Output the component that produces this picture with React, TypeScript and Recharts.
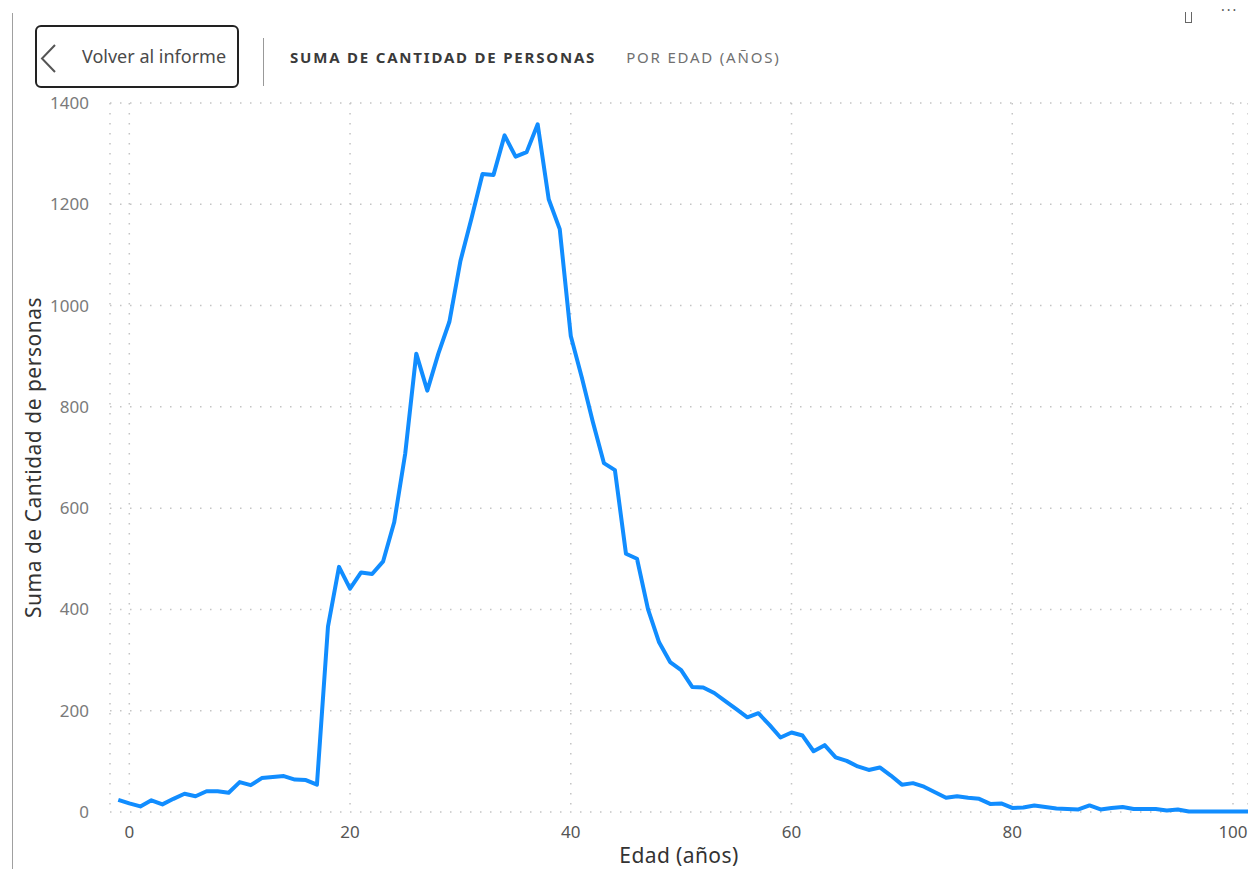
import { LineChart, Line, XAxis, YAxis, CartesianGrid } from 'recharts';

// edad (años)
const ages = [
  -1, 0, 1, 2, 3, 4, 5, 6, 7, 8, 9, 10, 11, 12, 13, 14, 15, 16, 17, 18, 19, 20,
  21, 22, 23, 24, 25, 26, 27, 28, 29, 30, 31, 32, 33, 34, 35, 36, 37, 38, 39, 40,
  41, 42, 43, 44, 45, 46, 47, 48, 49, 50, 51, 52, 53, 54, 55, 56, 57, 58, 59, 60,
  61, 62, 63, 64, 65, 66, 67, 68, 69, 70, 71, 72, 73, 74, 75, 76, 77, 78, 79, 80,
  81, 82, 83, 84, 85, 86, 87, 88, 89, 90, 91, 92, 93, 94, 95, 96, 97, 98, 99, 100,
  101, 102,
];

// suma de cantidad de personas
const personas = [
  24, 17, 11, 23, 15, 26, 36, 31, 41, 41, 38, 59, 53, 67, 69, 71, 64, 63, 54, 366, 484, 441,
  473, 470, 495, 572, 708, 905, 832, 905, 968, 1088, 1172, 1260, 1258, 1336, 1294, 1303, 1358, 1210, 1151, 940,
  858, 770, 689, 675, 510, 500, 400, 335, 296, 280, 247, 246, 235, 219, 203, 187, 195, 172, 147, 157,
  151, 120, 132, 108, 101, 90, 83, 88, 72, 54, 57, 50, 39, 28, 31, 28, 26, 16, 17, 8,
  9, 13, 10, 7, 6, 5, 13, 5, 8, 10, 6, 6, 6, 3, 5, 1, 1, 1, 1, 1,
  1, 1,
];

const xTicks = [0, 20, 40, 60, 80, 100];
const yTicks = [0, 200, 400, 600, 800, 1000, 1200, 1400];

const data = ages.map((edad, i) => ({ edad, personas: personas[i] }));

const font = '"Noto Sans", "Open Sans", sans-serif';

export default function App() {
  return (
    <div
      style={{
        position: 'fixed',
        left: 0,
        top: 0,
        width: 1248,
        height: 869,
        overflow: 'hidden',
        background: '#fff',
        fontFamily: font,
      }}
    >
      <div style={{ position: 'absolute', left: 12, top: 13, width: 1, bottom: 0, background: '#a0a0a0' }} />

      {/* back button */}
      <div
        style={{
          position: 'absolute',
          left: 35,
          top: 25,
          width: 200,
          height: 59,
          border: '2px solid #222',
          borderRadius: 6,
          boxSizing: 'content-box',
        }}
      >
        <svg width={30} height={59} style={{ position: 'absolute', left: 0, top: 0 }}>
          <polyline points="18,18 5,31.5 18,45" fill="none" stroke="#555" strokeWidth={2} />
        </svg>
        <div
          style={{
            position: 'absolute',
            left: 45,
            top: 0,
            lineHeight: '59px',
            fontSize: 18,
            color: '#4a4a4a',
            whiteSpace: 'nowrap',
          }}
        >
          Volver al informe
        </div>
      </div>
      <div style={{ position: 'absolute', left: 263, top: 38, width: 1, height: 48, background: '#999' }} />
      <div
        style={{
          position: 'absolute',
          left: 290,
          top: 47,
          fontSize: 15,
          lineHeight: '20px',
          letterSpacing: 1.8,
          whiteSpace: 'nowrap',
        }}
      >
        <span style={{ fontWeight: 700, color: '#3a3a3a' }}>SUMA DE CANTIDAD DE PERSONAS</span>
        <span style={{ color: '#707070', marginLeft: 30 }}>POR EDAD (AÑOS)</span>
      </div>
      <div
        style={{
          position: 'absolute',
          left: 1185,
          top: 12,
          width: 5,
          height: 10,
          border: '1px solid #666',
          borderTop: 'none',
        }}
      />
      <div style={{ position: 'absolute', left: 1221, top: 0, fontSize: 14, color: '#555', letterSpacing: 2 }}>
        ···
      </div>

      <LineChart width={1248} height={869} data={data} margin={{ top: 103, right: 0, bottom: 0, left: 0 }}>
        <CartesianGrid stroke="#c4c4c4" strokeDasharray="1.5 8.5" strokeWidth={1.5} />
        <XAxis
          type="number"
          dataKey="edad"
          domain={[-1.75, 101.36]}
          ticks={xTicks}
          allowDataOverflow
          height={57}
          axisLine={false}
          tickLine={false}
          tickMargin={8}
          tick={{ fill: '#555', fontSize: 17, fontFamily: font }}
          label={{
            value: 'Edad (años)',
            position: 'insideBottom',
            offset: 6,
            fill: '#333',
            fontSize: 21,
            fontFamily: font,
            letterSpacing: 0.4,
          }}
        />
        <YAxis
          type="number"
          domain={[0, 1400]}
          ticks={yTicks}
          width={110}
          axisLine={false}
          tickLine={false}
          tickMargin={15}
          tick={{ fill: '#7a7a7a', fontSize: 17, fontFamily: font }}
          label={{
            value: 'Suma de Cantidad de personas',
            content: (props: any) => {
              const vb = props.viewBox || { x: 0, y: 103, width: 110, height: 709 };
              const cx = vb.x + 33;
              const cy = vb.y + vb.height / 2;
              return (
                <text
                  x={cx}
                  y={cy}
                  transform={`rotate(-90 ${cx} ${cy})`}
                  textAnchor="middle"
                  dominantBaseline="central"
                  fill="#333"
                  fontSize={21}
                  letterSpacing={0.5}
                  fontFamily={font}
                >
                  Suma de Cantidad de personas
                </text>
              );
            },
          }}
        />
        <Line
          type="linear"
          dataKey="personas"
          stroke="#118DFF"
          strokeWidth={4}
          strokeLinejoin="round"
          dot={false}
          activeDot={false}
          isAnimationActive={false}
        />
      </LineChart>
    </div>
  );
}
